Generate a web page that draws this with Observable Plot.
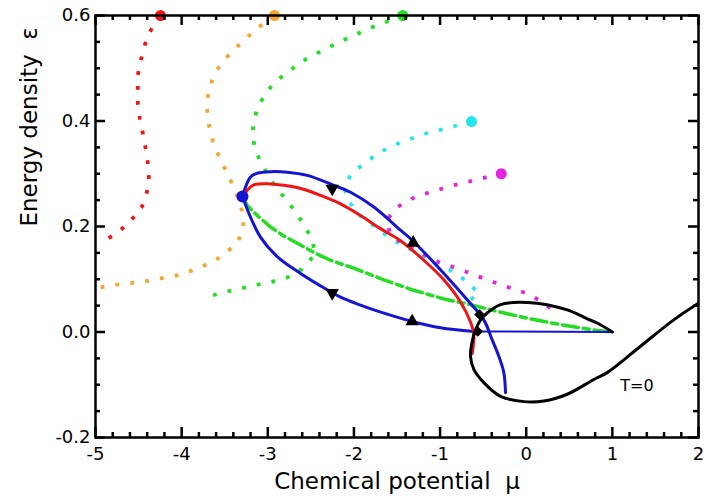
<!DOCTYPE html>
<html><head><meta charset="utf-8">
<script src="https://cdn.jsdelivr.net/npm/d3@7"></script>
<script src="https://cdn.jsdelivr.net/npm/@observablehq/plot@0.6"></script>
<style>body{margin:0;background:#fff} #chart{width:706px;height:499px}</style>
</head><body><div id="chart"></div>
<script>
// ---- Data ----
const xMajorTicks = [-5, -4, -3, -2, -1, 0, 1, 2];
const xMinorTicks = [-4.8,-4.6,-4.4,-4.2,-3.8,-3.6,-3.4,-3.2,-2.8,-2.6,-2.4,-2.2,-1.8,-1.6,-1.4,-1.2,-0.8,-0.6,-0.4,-0.2,0.2,0.4,0.6,0.8,1.2,1.4,1.6,1.8];
const yMajorTicks = [-0.2, 0.0, 0.2, 0.4, 0.6];
const yMinorTicks = [-0.15,-0.1,-0.05,0.05,0.1,0.15,0.25,0.3,0.35,0.45,0.5,0.55];

// dotted trajectories
const redMu  = [-4.245,-4.358,-4.431,-4.474,-4.509,-4.509,-4.509,-4.486,-4.451,-4.420,-4.393,-4.381,-4.404,-4.462,-4.625,-4.803,-4.899];
const redEps = [0.599,0.572,0.543,0.515,0.487,0.459,0.433,0.405,0.377,0.350,0.321,0.293,0.265,0.237,0.204,0.182,0.174];

const orangeMu  = [-2.922,-3.131,-3.433,-3.569,-3.650,-3.696,-3.703,-3.680,-3.638,-3.569,-3.487,-3.406,-3.340,-3.285,-3.285,-3.360,-3.627,-3.804,-3.994,-4.269,-4.454,-4.640,-4.822,-5.0];
const orangeEps = [0.599,0.575,0.529,0.502,0.475,0.446,0.418,0.390,0.362,0.334,0.306,0.279,0.251,0.223,0.194,0.167,0.133,0.122,0.109,0.101,0.095,0.092,0.088,0.083];

const greenMu  = [-1.433,-1.622,-1.800,-1.953,-2.202,-2.385,-2.559,-2.821,-3.003,-3.111,-3.166,-3.177,-3.143,-3.061,-2.960,-2.833,-2.696,-2.582,-2.489,-2.446,-2.605,-2.777,-2.960,-3.145,-3.331,-3.514,-3.696];
const greenEps = [0.599,0.588,0.577,0.566,0.547,0.532,0.517,0.487,0.458,0.428,0.399,0.372,0.343,0.316,0.287,0.260,0.232,0.204,0.176,0.148,0.119,0.103,0.095,0.089,0.082,0.075,0.067];

const cyanMu  = [-0.635,-0.789,-0.975,-1.065,-1.250,-1.436,-1.529,-1.718,-2.028,-2.113,-2.051,-1.932,-1.769,-1.590,-1.421,-1.254,-1.073,-0.890,-0.713,-0.550,-0.655];
const cyanEps = [0.399,0.392,0.384,0.381,0.372,0.360,0.355,0.339,0.301,0.273,0.246,0.221,0.201,0.179,0.163,0.149,0.132,0.118,0.099,0.074,0.060];

const magentaMu  = [-0.290,-0.426,-0.608,-0.666,-0.847,-1.010,-1.262,-1.421,-1.506,-1.625,-1.575,-1.421,-1.254,-1.073,-0.899,-0.724,-0.550,-0.368,-0.194,-0.008,0.158,0.313];
const magentaEps = [0.300,0.295,0.287,0.285,0.278,0.270,0.258,0.245,0.235,0.211,0.185,0.166,0.153,0.136,0.126,0.116,0.105,0.094,0.084,0.074,0.060,0.041];

// end points (large dots)
const endMu    = [-4.245, -2.922, -1.433, -0.635, -0.290];
const endEps   = [0.600, 0.600, 0.600, 0.399, 0.300];
const endColor = ["red", "orange", "green", "cyan", "magenta"];

// green dash-dot
const greenDashMu  = [-3.294,-3.239,-3.104,-2.968,-2.814,-2.620,-2.446,-2.272,-2.001,-1.653,-1.324,-0.917,-0.647,-0.337,0.012,0.398,0.824,1.0];
const greenDashEps = [0.257,0.240,0.218,0.199,0.182,0.165,0.149,0.136,0.121,0.099,0.080,0.061,0.052,0.039,0.026,0.014,0.003,0.0];

// blue curves
const blueUpperMu  = [-3.294,-3.201,-3.123,-2.968,-2.775,-2.542,-2.234,-2.040,-1.769,-1.459,-1.324,-0.995,-0.685,-0.492,-0.395,-0.318,-0.260,-0.240];
const blueUpperEps = [0.257,0.294,0.301,0.304,0.303,0.297,0.278,0.265,0.237,0.193,0.174,0.118,0.061,0.023,-0.015,-0.046,-0.077,-0.115];
const blueLowerMu  = [-3.294,-3.201,-3.085,-2.891,-2.620,-2.310,-2.156,-1.924,-1.769,-1.323,-0.995,-0.608];
const blueLowerEps = [0.257,0.218,0.180,0.143,0.111,0.080,0.066,0.051,0.042,0.020,0.008,0.001];
const blueFlatMu  = [-0.608, 1.0];
const blueFlatEps = [0.001, 0.0];
const blueDotMu = [-3.294], blueDotEps = [0.257];

// red solid
const redSolidMu  = [-3.294,-3.220,-3.162,-3.007,-2.814,-2.620,-2.388,-2.156,-1.924,-1.692,-1.459,-1.189,-0.957,-0.763,-0.647,-0.608,-0.627];
const redSolidEps = [0.257,0.272,0.279,0.281,0.278,0.272,0.259,0.243,0.221,0.196,0.173,0.136,0.099,0.057,0.019,-0.005,-0.041];

// black T=0 curve
const blackMu  = [1.0,0.824,0.708,0.476,0.012,-0.298,-0.453,-0.530,-0.588,-0.627,-0.647,-0.608,-0.492,-0.298,-0.027,0.205,0.476,0.785,0.940,1.327,1.713,2.004];
const blackEps = [0.0,0.017,0.025,0.042,0.056,0.052,0.036,0.023,0.004,-0.018,-0.046,-0.071,-0.096,-0.122,-0.132,-0.131,-0.118,-0.090,-0.077,-0.027,0.023,0.055];

// markers
const triMu  = [-2.252, -1.312, -2.252, -1.324];
const triEps = [0.272, 0.169, 0.074, 0.020];
const triDir = ["down", "up", "down", "up"];
const diaMu  = [-0.542, -0.562];
const diaEps = [0.033, 0.001];

const labelTexts = ["T=0"];
const labelMu = [1.286], labelEps = [-0.102];

const xTitle = "Chemical potential \u00a0\u03bc";
const yTitle = "Energy density \u00a0\u03b5";

// ---- Styles ----
const C = {red:"#f01414", orange:"#f4a532", green:"#22dd22", cyan:"#22e6ee", magenta:"#e324e3", blue:"#1414d2", black:"#000000"};
const pts = (xs, ys) => xs.map((x, i) => ({x, y: ys[i]}));

const W = 706, H = 499, mL = 95, mR = 8, mT = 15, mB = 62;
const iW = W - mL - mR, iH = H - mT - mB;
const dotted = {x: "x", y: "y", strokeWidth: 3.8, strokeDasharray: "3.8,11.2", strokeLinecap: "butt", clip: true};

const chart = Plot.plot({
  width: W, height: H,
  marginLeft: mL, marginRight: mR, marginTop: mT, marginBottom: mB,
  x: {domain: [-5, 2]},
  y: {domain: [-0.2, 0.6]},
  style: {fontFamily: "'DejaVu Sans', sans-serif", background: "#fff", color: "#000"},
  marks: [
    // dotted trajectories
    Plot.line(pts(redMu, redEps), {...dotted, stroke: C.red}),
    Plot.line(pts(orangeMu, orangeEps), {...dotted, stroke: C.orange}),
    Plot.line(pts(greenMu, greenEps), {...dotted, stroke: C.green}),
    Plot.line(pts(cyanMu, cyanEps), {...dotted, stroke: C.cyan}),
    Plot.line(pts(magentaMu, magentaEps), {...dotted, stroke: C.magenta}),
    // green dash-dot
    Plot.line(pts(greenDashMu, greenDashEps), {x: "x", y: "y", stroke: C.green, strokeWidth: 3.5, strokeDasharray: "16,5,6,5", clip: true}),
    // blue
    Plot.line(pts(blueFlatMu, blueFlatEps), {x: "x", y: "y", stroke: C.blue, strokeWidth: 2, clip: true}),
    Plot.line(pts(blueLowerMu, blueLowerEps), {x: "x", y: "y", stroke: C.blue, strokeWidth: 3, curve: "catmull-rom", clip: true}),
    Plot.line(pts(blueUpperMu, blueUpperEps), {x: "x", y: "y", stroke: C.blue, strokeWidth: 3, curve: "catmull-rom", clip: true}),
    // red solid
    Plot.line(pts(redSolidMu, redSolidEps), {x: "x", y: "y", stroke: C.red, strokeWidth: 3, curve: "catmull-rom", clip: true}),
    // black T=0
    Plot.line(pts(blackMu, blackEps), {x: "x", y: "y", stroke: C.black, strokeWidth: 3, curve: "catmull-rom", clip: true}),
    // end dots
    Plot.dot(endMu.map((x, i) => ({x, y: endEps[i], c: C[endColor[i]]})), {x: "x", y: "y", r: 5.5, fill: d => d.c, stroke: null}),
    Plot.dot(pts(blueDotMu, blueDotEps), {x: "x", y: "y", r: 6, fill: C.blue}),
    // markers
    Plot.dot(triMu.map((x, i) => ({x, y: triEps[i], d: triDir[i]})), {x: "x", y: "y", symbol: "triangle", r: 5, fill: "#000", rotate: d => d.d === "down" ? 180 : 0}),
    Plot.dot(pts(diaMu, diaEps), {x: "x", y: "y", symbol: "diamond2", r: 4.8, fill: "#000"}),
    // label
    Plot.text(labelTexts.map((t, i) => ({t, x: labelMu[i], y: labelEps[i]})), {x: "x", y: "y", text: "t", fontSize: 16, fill: "#000"}),
    // frame & ticks (inward)
    Plot.frame({stroke: "#000", strokeWidth: 2.5}),
    Plot.tickX(xMajorTicks, {insetTop: iH - 10, strokeWidth: 2.5}),
    Plot.tickX(xMajorTicks, {insetBottom: iH - 10, strokeWidth: 2.5}),
    Plot.tickX(xMinorTicks, {insetTop: iH - 5, strokeWidth: 2.5}),
    Plot.tickX(xMinorTicks, {insetBottom: iH - 5, strokeWidth: 2.5}),
    Plot.tickY(yMajorTicks, {insetRight: iW - 10, strokeWidth: 2.5}),
    Plot.tickY(yMajorTicks, {insetLeft: iW - 10, strokeWidth: 2.5}),
    Plot.tickY(yMinorTicks, {insetRight: iW - 5, strokeWidth: 2.5}),
    Plot.tickY(yMinorTicks, {insetLeft: iW - 5, strokeWidth: 2.5}),
    // axes labels
    Plot.axisX(xMajorTicks, {tickSize: 0, tickPadding: 10, fontSize: 18, tickFormat: d => String(d), label: null}),
    Plot.axisY(yMajorTicks, {tickSize: 0, tickPadding: 5, fontSize: 18, tickFormat: d => d.toFixed(1), label: null}),
    Plot.text([xTitle], {frameAnchor: "bottom", dy: 44, fontSize: 23, lineAnchor: "middle", text: d => d}),
    Plot.text([yTitle], {frameAnchor: "left", dx: -66, rotate: -90, fontSize: 23, lineAnchor: "middle", text: d => d})
  ]
});
document.getElementById("chart").appendChild(chart);
</script>
</body></html>
